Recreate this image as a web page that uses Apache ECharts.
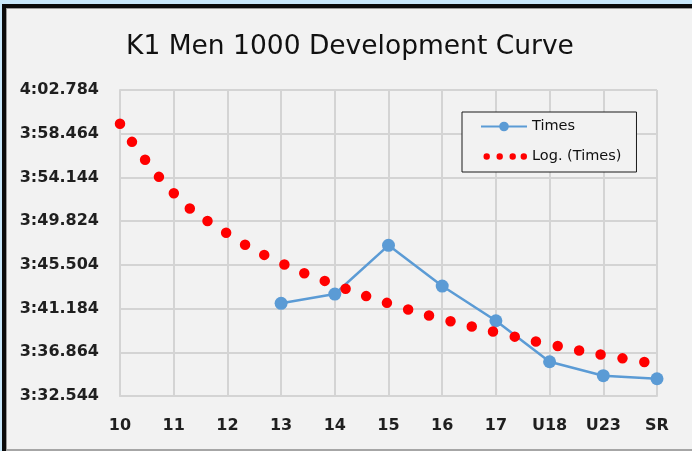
<!DOCTYPE html>
<html>
<head>
<meta charset="utf-8">
<script src="https://cdn.jsdelivr.net/npm/echarts@6/dist/echarts.min.js"></script>
<style>
  html, body { margin: 0; padding: 0; width: 692px; height: 451px; overflow: hidden; background: #c9e8fb; }
  #frame { position: absolute; left: 2px; top: 4px; width: 686px; height: 443px;
           border-left: 4px solid #0b0b0b; border-top: 4px solid #0b0b0b; background: #f2f2f2; }
  #inner { position: absolute; left: 0; top: 0; right: 0; bottom: 0;
           border-left: 1px solid #9a9a9a; border-top: 1px solid #9a9a9a; border-bottom: 2px solid #a6a6a6; }
  #chart { position: absolute; left: 0; top: 0; width: 692px; height: 451px; }
</style>
</head>
<body>
<div id="frame"><div id="inner"></div></div>
<div id="chart"></div>
<script>
// Categories (age groups)
var categories = ['10', '11', '12', '13', '14', '15', '16', '17', 'U18', 'U23', 'SR'];
// Times in seconds (null where no data)
var times = [null, null, null, 221.70, 222.62, 227.43, 223.41, 219.98, 215.93, 214.55, 214.25];
// Logarithmic trendline values (seconds)
var logTrend = [239.45, 232.60, 228.60, 225.70, 223.55, 221.70, 220.15, 218.85, 217.65, 216.60, 215.70];
// Y axis range (seconds)
var yMin = 212.544;
var yMax = 242.784;
var yStep = 4.32;

function fmt(sec) {
  var m = Math.floor(sec / 60 + 1e-9);
  var s = sec - m * 60;
  var str = s.toFixed(3);
  if (s < 10) str = '0' + str;
  return m + ':' + str;
}
function shift(arr) {
  return arr.map(function (v) { return v == null ? null : +(v - yMin).toFixed(4); });
}

var chart = echarts.init(document.getElementById('chart'), null, { renderer: 'canvas' });
var labelFont = 'DejaVu Sans';
// four small dots inside a 46x12 box (zero-area corner subpaths fix the bounds)
var dotsIcon = 'path://M0,0L0.01,0L0,0Z' +
  'M2.5,6a3.2,3.2 0 1,0 6.4,0a3.2,3.2 0 1,0 -6.4,0' +
  'M15.5,6a3.2,3.2 0 1,0 6.4,0a3.2,3.2 0 1,0 -6.4,0' +
  'M28.5,6a3.2,3.2 0 1,0 6.4,0a3.2,3.2 0 1,0 -6.4,0' +
  'M39.6,6a3.2,3.2 0 1,0 6.4,0a3.2,3.2 0 1,0 -6.4,0' +
  'M46,12L45.99,12L46,12Z';

chart.setOption({
  animation: false,
  backgroundColor: 'transparent',
  title: {
    text: 'K1 Men 1000 Development Curve',
    left: 121,
    top: 29,
    textStyle: { fontFamily: labelFont, fontSize: 26.5, fontWeight: 'normal', color: '#111111' }
  },
  legend: {
    orient: 'vertical',
    left: 462,
    top: 112,
    padding: [7, 15, 8, 18],
    itemWidth: 46,
    itemHeight: 12,
    itemGap: 15,
    borderColor: '#1a1a1a',
    borderWidth: 1,
    backgroundColor: '#f2f2f2',
    textStyle: { fontFamily: labelFont, fontSize: 14.5, color: '#111111' },
    data: [
      { name: 'Times' },
      { name: 'Log. (Times)', icon: dotsIcon, itemStyle: { color: '#ff0000' } }
    ]
  },
  grid: { left: 120, right: 35, top: 90, bottom: 55, containLabel: false },
  xAxis: {
    type: 'category',
    data: categories,
    boundaryGap: false,
    axisLine: { show: true, lineStyle: { color: '#d4d4d4', width: 2 } },
    axisTick: { show: false },
    splitLine: { show: true, lineStyle: { color: '#d4d4d4', width: 2 } },
    axisLabel: { margin: 22, fontFamily: labelFont, fontSize: 16, fontWeight: 'bold', color: '#1f1f1f' }
  },
  yAxis: {
    type: 'value',
    min: 0,
    max: +(yMax - yMin).toFixed(4),
    interval: yStep,
    axisLine: { show: true, lineStyle: { color: '#d4d4d4', width: 2 } },
    axisTick: { show: false },
    splitLine: { show: true, lineStyle: { color: '#d4d4d4', width: 2 } },
    axisLabel: {
      margin: 21, fontFamily: labelFont, fontSize: 16, fontWeight: 'bold', color: '#1f1f1f',
      formatter: function (v) { return fmt(v + yMin); }
    }
  },
  series: [
    {
      name: 'Times',
      type: 'line',
      data: shift(times),
      connectNulls: false,
      symbol: 'circle',
      symbolSize: 13,
      color: '#5b9bd5',
      lineStyle: { color: '#5b9bd5', width: 2.5 },
      itemStyle: { color: '#5b9bd5' },
      z: 2
    },
    {
      name: 'Log. (Times)',
      type: 'line',
      data: shift(logTrend),
      smooth: true,
      showSymbol: false,
      symbol: 'none',
      clip: false,
      color: '#ff0000',
      lineStyle: { color: '#ff0000', width: 10.5, type: [0, 22], cap: 'round' },
      z: 3
    }
  ]
});
</script>
</body>
</html>
